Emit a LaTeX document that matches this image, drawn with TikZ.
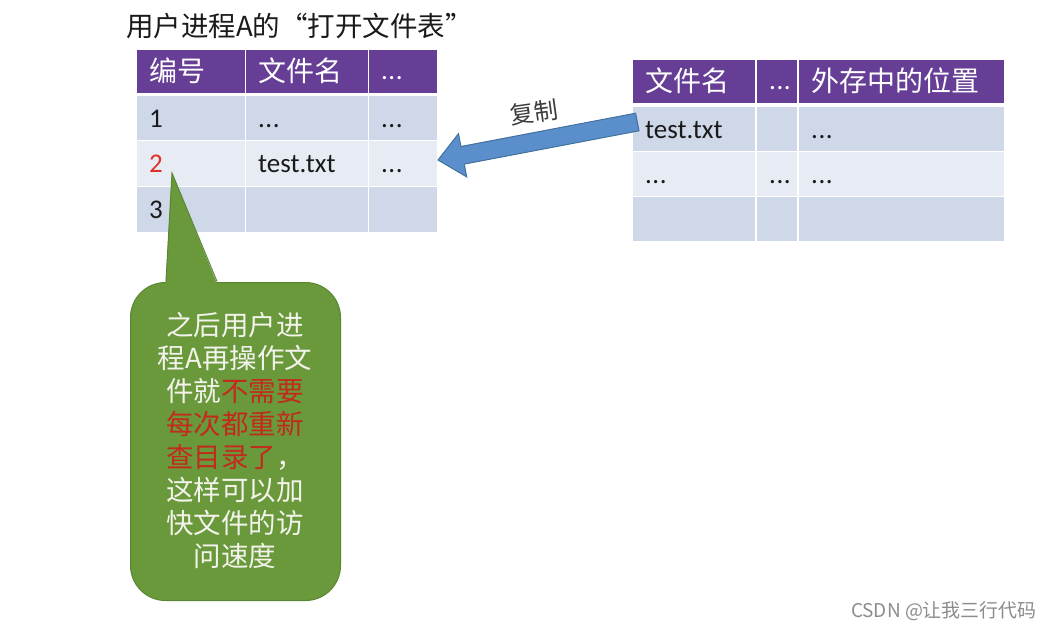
\documentclass[tikz,border=0pt]{standalone}
\usepackage{fontspec}
\setmainfont{Carlito}
\newfontfamily\cjk{Noto Sans CJK SC}
\definecolor{hdrc}{HTML}{663E96}
\definecolor{rowa}{HTML}{CED8E8}
\definecolor{rowb}{HTML}{E7ECF4}
\definecolor{txtc}{HTML}{1A1A1A}
\definecolor{redc}{HTML}{E0302A}
\definecolor{calfill}{HTML}{6A993C}
\definecolor{calline}{HTML}{5A8533}
\definecolor{calred}{HTML}{C22A1C}
\definecolor{calwhite}{HTML}{F3F3EC}
\definecolor{arrfill}{HTML}{5B8FCB}
\definecolor{arrline}{HTML}{41719C}
\newcommand\dotsx{.\kern0.5pt.\kern0.5pt.}
\tikzset{
  cellst/.style={anchor=north west, inner xsep=12pt, inner ysep=0pt, align=left,
    text height=18pt, text depth=0pt,
    text=txtc, font=\fontsize{27}{30}\selectfont},
  hdrst/.style={cellst, fill=hdrc, text=white, text height=20pt, font=\cjk\fontsize{28}{30}\selectfont},
}
\begin{document}
\begin{tikzpicture}[x=1pt,y=-1pt]
\useasboundingbox (0,0) rectangle (1054,632);
\fill[white] (0,0) rectangle (1054,632);

% title
\node[anchor=west, inner sep=0pt, text=txtc, font=\cjk\fontsize{27.5}{30}\selectfont] (title) at (126,26) {用户进程A的“打开文件表”};

% left table header
\node[hdrst, text width=84pt, minimum height=43pt] (L00) at (137,50) {编号};
\node[hdrst, text width=98pt, minimum height=43pt] (L01) at (246,50) {文件名};
\node[hdrst, text width=44pt, minimum height=43pt, text height=16pt, font=\fontsize{27}{30}\selectfont] (L02) at (369,50) {\dotsx};
% rows
\node[cellst, fill=rowa, text width=84pt, minimum height=44pt] (L10) at (137,96) {1};
\node[cellst, fill=rowa, text width=98pt, minimum height=44pt] (L11) at (246,96) {\dotsx};
\node[cellst, fill=rowa, text width=44pt, minimum height=44pt] (L12) at (369,96) {\dotsx};
\node[cellst, fill=rowb, text width=84pt, minimum height=45pt, text=redc] (L20) at (137,141) {2};
\node[cellst, fill=rowb, text width=98pt, minimum height=45pt] (L21) at (246,141) {test.txt};
\node[cellst, fill=rowb, text width=44pt, minimum height=45pt] (L22) at (369,141) {\dotsx};
\node[cellst, fill=rowa, text width=84pt, minimum height=45pt] (L30) at (137,187) {3};
\node[cellst, fill=rowa, text width=98pt, minimum height=45pt] (L31) at (246,187) {};
\node[cellst, fill=rowa, text width=44pt, minimum height=45pt] (L32) at (369,187) {};

% right table header
\node[hdrst, text width=98pt, minimum height=43pt] (R00) at (633,60) {文件名};
\node[hdrst, text width=16pt, minimum height=43pt, align=center, text height=16pt, font=\fontsize{27}{30}\selectfont] (R01) at (757,60) {\dotsx};
\node[hdrst, text width=181pt, minimum height=43pt] (R02) at (799,60) {外存中的位置};
% rows
\node[cellst, fill=rowa, text width=98pt, minimum height=44pt] (R10) at (633,107) {test.txt};
\node[cellst, fill=rowa, text width=16pt, minimum height=44pt, align=center] (R11) at (757,107) {};
\node[cellst, fill=rowa, text width=181pt, minimum height=44pt] (R12) at (799,107) {\dotsx};
\node[cellst, fill=rowb, text width=98pt, minimum height=44pt] (R20) at (633,152) {\dotsx};
\node[cellst, fill=rowb, text width=16pt, minimum height=44pt, align=center] (R21) at (757,152) {\dotsx};
\node[cellst, fill=rowb, text width=181pt, minimum height=44pt] (R22) at (799,152) {\dotsx};
\node[cellst, fill=rowa, text width=98pt, minimum height=44pt] (R30) at (633,197) {};
\node[cellst, fill=rowa, text width=16pt, minimum height=44pt] (R31) at (757,197) {};
\node[cellst, fill=rowa, text width=181pt, minimum height=44pt] (R32) at (799,197) {};

% block arrow (copy)
\coordinate (atip) at (438,160);
\coordinate (atail) at (637.3,122);
\draw[fill=arrfill, draw=arrline, line width=1pt, line join=miter]
  (atip) -- (458.5,133.7) -- (460.9,146.5) -- (635.6,113.2) -- (639,130.8)
  -- (464.3,164.1) -- (466.7,176.9) -- cycle;
\node[rotate=8, inner sep=0pt, text=txtc!85, font=\cjk\fontsize{24}{28}\selectfont] (copy) at (534,112) {复制};

% callout
\node[draw=calline, fill=calfill, line width=1pt, rounded corners=35pt, anchor=north west,
  minimum width=210pt, minimum height=318pt, inner sep=0pt] (call) at (130,282) {};
\fill[calfill] (165.5,285) -- (172,173) -- (217.5,285) -- cycle;
\draw[calline, line width=1pt] (166,281.5) -- (172,173) -- (217,281.5);
\node[align=center, inner sep=0pt, text=calwhite, font=\cjk\fontsize{27.5}{33}\selectfont] (calltext) at (235,440)
{之后用户进\\程A再操作文\\件就\textcolor{calred}{不需要}\\\textcolor{calred}{每次都重新}\\\textcolor{calred}{查目录了}，\\这样可以加\\快文件的访\\问速度};

% watermark
\node[inner sep=0pt, text=black!45, font=\cjk\fontsize{19}{21}\selectfont] (wm) at (944,611) {CSDN @让我三行代码};
\end{tikzpicture}
\end{document}
